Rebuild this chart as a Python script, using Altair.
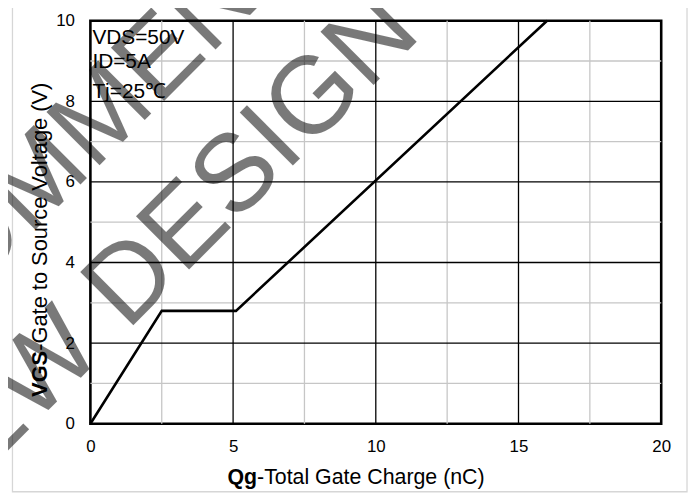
import altair as alt
import pandas as pd

# ---- data ----
qg = [0.0, 2.5, 5.1, 16.0]          # nC
vgs = [0.0, 2.8, 2.8, 10.0]         # V
x_ticks = [0, 5, 10, 15, 20]
y_ticks = [0, 2, 4, 6, 8, 10]
x_major = [5, 10, 15]
x_minor = [2.5, 7.5, 12.5, 17.5]
y_major = [2, 4, 6, 8]
y_minor = [1, 3, 5, 7, 9]
conditions = ["VDS=50V", "ID=5A", "Tj=25℃"]
watermark = ["NOT RECOMMENDED", "FOR NEW DESIGN"]
x_title = ["Qg", "-Total Gate Charge (nC)"]
y_title = ["VGS", "-Gate to Source Voltage (V)"]

FONT = "Liberation Sans"
W, H = 575, 406
xs = alt.Scale(domain=[0, 20], nice=False, zero=False)
ys = alt.Scale(domain=[0, 10], nice=False, zero=False)

x_axis = alt.Axis(values=x_ticks, grid=False, ticks=False, domain=False,
                  labelFontSize=17, labelFont=FONT, labelColor="black",
                  labelPadding=15, labelFlush=False, labelOverlap=False,
                  title=None, format="d")
y_axis = alt.Axis(values=y_ticks, grid=False, ticks=False, domain=False,
                  labelFontSize=17, labelFont=FONT, labelColor="black",
                  labelPadding=16, labelFlush=False, labelOverlap=False,
                  title=None, format="d")

curve = pd.DataFrame({"qg": qg, "vgs": vgs})

line = alt.Chart(curve).mark_line(color="black", strokeWidth=2.6).encode(
    x=alt.X("qg:Q", scale=xs, axis=x_axis),
    y=alt.Y("vgs:Q", scale=ys, axis=y_axis),
)

def vrules(vals, color):
    return alt.Chart(pd.DataFrame({"qg": vals})).mark_rule(color=color, strokeWidth=1.3).encode(
        x=alt.X("qg:Q", scale=xs, axis=x_axis))

def hrules(vals, color):
    return alt.Chart(pd.DataFrame({"vgs": vals})).mark_rule(color=color, strokeWidth=1.3).encode(
        y=alt.Y("vgs:Q", scale=ys, axis=y_axis))

grid = [vrules(x_minor, "#c6c6c6"), hrules(y_minor, "#c6c6c6"),
        vrules(x_major, "black"), hrules(y_major, "black")]

# condition annotations (top-left inside plot)
cond_y = [23, 48, 78]
cond_layers = [
    alt.Chart(pd.DataFrame({"t": [t]})).mark_text(
        align="left", baseline="alphabetic", fontSize=21, font=FONT, color="black"
    ).encode(text="t:N", x=alt.value(2), y=alt.value(yy))
    for t, yy in zip(conditions, cond_y)
]

# axis titles with bold prefixes
XT = 21.5
xt_bold = alt.Chart(pd.DataFrame({"t": [x_title[0]]})).mark_text(
    align="left", baseline="alphabetic", fontSize=XT, font=FONT, fontWeight="bold", color="black"
).encode(text="t:N", x=alt.value(138), y=alt.value(467))
xt_rest = alt.Chart(pd.DataFrame({"t": [x_title[1]]})).mark_text(
    align="left", baseline="alphabetic", fontSize=XT, font=FONT, color="black"
).encode(text="t:N", x=alt.value(138 + 1.389 * XT), y=alt.value(467))

YT = 22
yt_bold = alt.Chart(pd.DataFrame({"t": [y_title[0]]})).mark_text(
    align="left", baseline="alphabetic", fontSize=YT, font=FONT, fontWeight="bold", color="black", angle=270
).encode(text="t:N", x=alt.value(-44), y=alt.value(379))
yt_rest = alt.Chart(pd.DataFrame({"t": [y_title[1]]})).mark_text(
    align="left", baseline="alphabetic", fontSize=YT, font=FONT, color="black", angle=270
).encode(text="t:N", x=alt.value(-44), y=alt.value(379 - 2.112 * YT))

# outer light frame of the figure
frame = alt.Chart(pd.DataFrame({"a": [0]})).mark_rect(
    fill="white", fillOpacity=0, stroke="#d6d6d6", strokeWidth=1.3
).encode(x=alt.value(-78.5), x2=alt.value(601), y=alt.value(-14.5), y2=alt.value(474.5))

# watermark
wm_pos = [(340, -185), (335, 15)]
wm_layers = [
    alt.Chart(pd.DataFrame({"t": [t]})).mark_text(
        align="right", baseline="alphabetic", fontSize=110, font=FONT, color="black",
        opacity=0.52, angle=315
    ).encode(text="t:N", x=alt.value(px), y=alt.value(py))
    for t, (px, py) in zip(watermark, wm_pos)
]

chart = alt.layer(
    frame, *grid, line, *cond_layers, xt_bold, xt_rest, yt_bold, yt_rest, *wm_layers
).properties(
    width=W, height=H,
    autosize=alt.AutoSizeParams(type="none"),
    padding={"left": 83, "top": 11, "right": 28, "bottom": 69},
    background="white",
).configure_view(stroke="black", strokeWidth=2.6)

chart.save("out.html", embed_options={"renderer": "svg", "actions": False})
